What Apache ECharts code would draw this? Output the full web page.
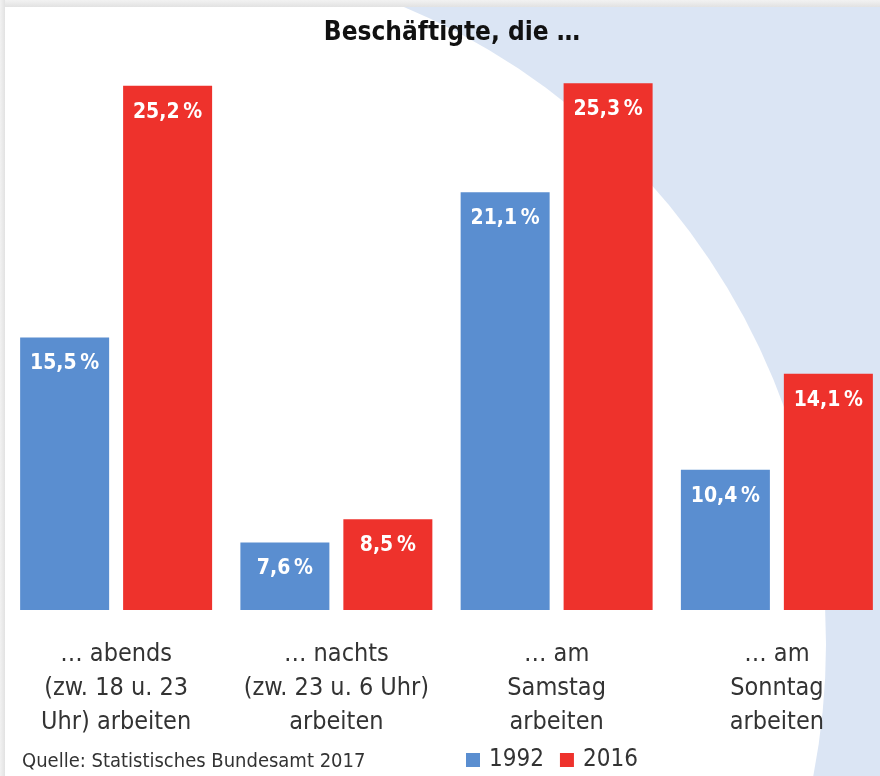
<!DOCTYPE html>
<html>
<head>
<meta charset="utf-8">
<script src="https://cdn.jsdelivr.net/npm/echarts@6/dist/echarts.min.js"></script>
<style>
html,body{margin:0;padding:0;background:#fff;}
#chart{width:880px;height:776px;}
</style>
</head>
<body>
<div id="chart"></div>
<script>
// ---- data ----
var categories = [
  '… abends\n(zw. 18 u. 23\nUhr) arbeiten',
  '… nachts\n(zw. 23 u. 6 Uhr)\narbeiten',
  '… am\nSamstag\narbeiten',
  '… am\nSonntag\narbeiten'
];
var seriesNames = ['1992', '2016'];
var values1992 = [15.5, 7.6, 21.1, 10.4];
var values2016 = [25.2, 8.5, 25.3, 14.1];
var titleText = 'Beschäftigte, die …';
var sourceText = 'Quelle: Statistisches Bundesamt 2017';

var FONT = "'Liberation Sans Narrow', 'DejaVu Sans Condensed', 'Open Sans', sans-serif";
var BLUE = '#5a8ed0';
var RED = '#ee322c';

function fmt(p) {
  return p.value.toFixed(1).replace('.', ',') + '\u2009%';
}

var chart = echarts.init(document.getElementById('chart'));
var labelCfg = {
  show: true,
  position: 'insideTop',
  distance: 16,
  color: '#fff',
  fontFamily: FONT,
  fontWeight: 'bold',
  fontSize: 21,
  formatter: fmt
};

chart.setOption({
  backgroundColor: '#fff',
  animation: false,
  graphic: [
    { type: 'rect', z: -10, shape: { x: 0, y: 0, width: 880, height: 776 }, style: { fill: '#dbe5f4' } },
    { type: 'circle', z: -9, shape: { cx: 134, cy: 644, r: 692 }, style: { fill: '#ffffff' } },
    { type: 'rect', z: -8, shape: { x: 0, y: 0, width: 880, height: 7 },
      style: { fill: new echarts.graphic.LinearGradient(0, 0, 0, 1, [{offset: 0, color: '#f2f2f2'}, {offset: 1, color: '#e2e2e2'}]) } },
    { type: 'rect', z: -8, shape: { x: 0, y: 0, width: 5, height: 776 },
      style: { fill: new echarts.graphic.LinearGradient(0, 0, 1, 0, [{offset: 0, color: '#f2f2f2'}, {offset: 1, color: '#e2e2e2'}]) } }
  ],
  title: [
    { text: titleText, left: 447, top: 15, textAlign: 'center',
      textStyle: { fontFamily: FONT, fontWeight: 'bold', fontSize: 26, color: '#111' } },
    { text: sourceText, left: 17, top: 747,
      textStyle: { fontFamily: FONT, fontWeight: 'normal', fontSize: 20, color: '#333' } }
  ],
  legend: {
    data: seriesNames,
    left: 466, top: 748, padding: 0,
    icon: 'rect', itemWidth: 14, itemHeight: 14, itemGap: 16,
    textStyle: { fontFamily: FONT, fontSize: 24, color: '#333', padding: [0, 0, 0, 4] }
  },
  grid: { left: 6, right: -7, top: 65, bottom: 166, containLabel: false, outerBoundsMode: 'none' },
  xAxis: {
    type: 'category',
    data: categories,
    axisLine: { show: false },
    axisTick: { show: false },
    axisLabel: {
      margin: 27,
      interval: 0,
      fontFamily: FONT,
      fontSize: 25,
      lineHeight: 34,
      color: '#333',
      align: 'center'
    }
  },
  yAxis: {
    type: 'value', min: 5, max: 26, show: false,
    splitLine: { show: false }
  },
  series: [
    { name: seriesNames[0], type: 'bar', data: values1992, barWidth: 89, barGap: '15.7%',
      itemStyle: { color: BLUE }, label: labelCfg },
    { name: seriesNames[1], type: 'bar', data: values2016, barWidth: 89, barGap: '15.7%',
      itemStyle: { color: RED }, label: labelCfg }
  ]
});
</script>
</body>
</html>
